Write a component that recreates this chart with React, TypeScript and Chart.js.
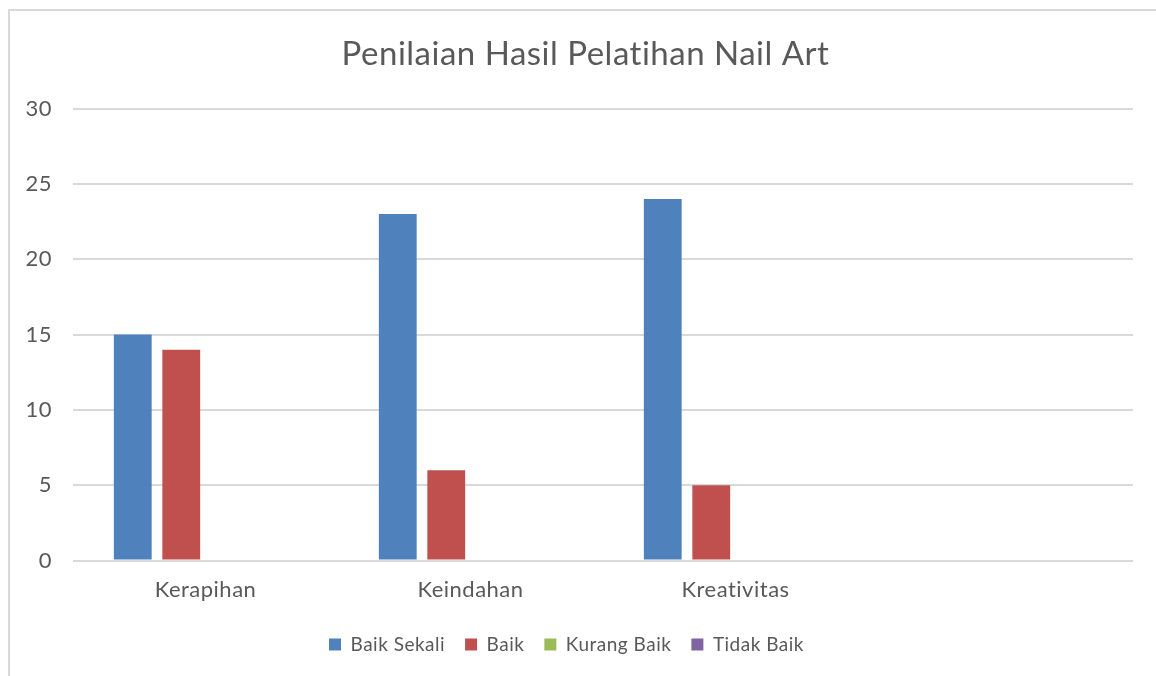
import React, { useEffect, useRef } from "react";
import { Chart, registerables } from "chart.js";
Chart.register(...registerables);

const title = "Penilaian Hasil Pelatihan Nail Art";
const categories = ["Kerapihan", "Keindahan", "Kreativitas", ""];
const seriesNames = ["Baik Sekali", "Baik", "Kurang Baik", "Tidak Baik"];
const baikSekali = [15, 23, 24, null];
const baik = [14, 6, 5, null];
const kurangBaik = [0, 0, 0, null];
const tidakBaik = [0, 0, 0, null];
const yTicks = [0, 5, 10, 15, 20, 25, 30];

const colors = ["#4f81bd", "#c0504d", "#9bbb59", "#8064a2"];
const textColor = "#595959";
const FONT = "Lato, 'Open Sans', sans-serif";

const spacingPlugin = {
  id: "spacing",
  beforeLayout(chart: any) {
    chart.ctx.letterSpacing = "0.5px";
  },
  afterLayout(chart: any) {
    const t = chart.titleBlock;
    if (t) {
      t.left += 19;
      t.right += 19;
    }
  },
  beforeDraw(chart: any) {
    chart.ctx.letterSpacing = "0.5px";
  },
};

export default function App() {
  const ref = useRef<HTMLCanvasElement | null>(null);
  useEffect(() => {
    if (!ref.current) return;
    const values = [baikSekali, baik, kurangBaik, tidakBaik];
    const chart = new Chart(ref.current, {
      type: "bar",
      plugins: [spacingPlugin],
      data: {
        labels: categories,
        datasets: seriesNames.map((name, i) => ({
          label: name,
          data: values[i],
          backgroundColor: colors[i],
          borderWidth: 0,
          categoryPercentage: 0.732,
          barPercentage: 0.78,
        })),
      },
      options: {
        animation: false,
        responsive: false,
        maintainAspectRatio: false,
        layout: { padding: { left: 0, right: 23, top: 0, bottom: 12 } },
        plugins: {
          title: {
            display: true,
            text: title,
            color: textColor,
            font: { family: FONT, size: 33, weight: "normal" },
            padding: { top: 35, bottom: 34 },
          },
          legend: {
            position: "bottom",
            labels: {
              color: textColor,
              font: { family: FONT, size: 19 },
              boxWidth: 12,
              boxHeight: 12,
              padding: 20,
            },
          },
          tooltip: { enabled: false },
        },
        scales: {
          x: {
            grid: { display: false, drawTicks: false },
            border: { display: false },
            afterFit: (scale: any) => {
              scale.height = scale.height - 4;
            },
            ticks: {
              color: textColor,
              font: { family: FONT, size: 22 },
              padding: 16,
            },
          },
          y: {
            min: 0,
            max: 30,
            afterFit: (scale: any) => {
              scale.width = 73;
            },
            afterBuildTicks: (scale: any) => {
              scale.ticks = yTicks.map((v) => ({ value: v }));
            },
            grid: { color: "#d9d9d9", lineWidth: 2, drawTicks: false },
            border: { display: false },
            ticks: {
              color: textColor,
              font: { family: FONT, size: 22 },
              padding: 21,
            },
          },
        },
      },
    });
    return () => chart.destroy();
  }, []);
  return (
    <div
      style={{
        position: "fixed",
        left: 0,
        top: 0,
        width: 1156,
        height: 676,
        overflow: "hidden",
        background: "#fff",
      }}
    >
      <div
        style={{
          position: "absolute",
          left: 8,
          top: 9,
          width: 2000,
          height: 2000,
          border: "2px solid #d9d9d9",
        }}
      />
      <canvas
        ref={ref}
        width={1156}
        height={676}
        style={{ position: "absolute", left: 0, top: 0, width: 1156, height: 676 }}
      />
    </div>
  );
}
